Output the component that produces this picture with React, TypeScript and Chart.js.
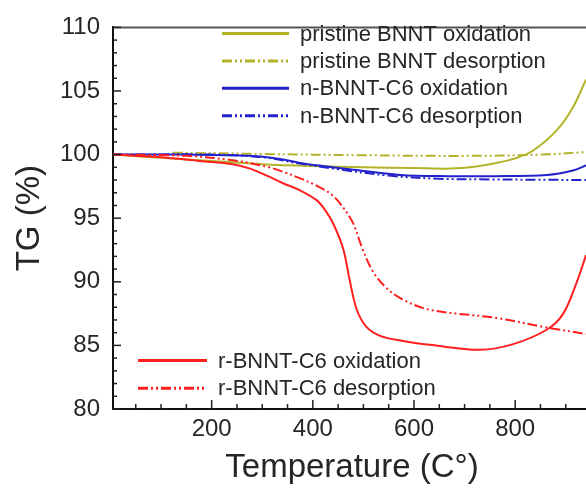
import React, { useEffect, useRef } from "react";
import { Chart, registerables } from "chart.js";

Chart.register(...registerables);

// ---- Data (temperature in °C, TG in %) ----
const pristineOxT = [5, 100, 200, 300, 400, 500, 600, 671, 720, 770, 800, 835, 882, 914, 940];
const pristineOxV = [100, 99.75, 99.5, 99.25, 99.1, 99.0, 98.95, 98.9, 99.05, 99.4, 99.7, 100.3, 101.9, 103.7, 105.9];

const pristineDesT = [123, 300, 500, 700, 850, 940];
const pristineDesV = [100.15, 100.05, 99.95, 99.9, 100.0, 100.2];

const nOxT = [5, 150, 275, 335, 374, 420, 473, 572, 671, 760, 863, 914, 940];
const nOxV = [100, 100, 99.9, 99.65, 99.35, 99.1, 98.85, 98.4, 98.3, 98.3, 98.4, 98.75, 99.15];

const nDesT = [5, 200, 300, 374, 450, 550, 650, 750, 940];
const nDesV = [100, 100, 99.8, 99.3, 98.85, 98.35, 98.1, 98.05, 98.0];

const rOxT = [5, 100, 177, 242, 276, 309, 341, 374, 408, 425, 440, 460, 473, 487, 506, 533, 578, 631, 730, 796, 863, 895, 922, 940];
const rOxV = [100, 99.8, 99.5, 99.25, 98.9, 98.35, 97.75, 97.2, 96.4, 95.6, 94.6, 92.6, 90.1, 87.8, 86.45, 85.75, 85.35, 85.05, 84.65, 85.1, 86.25, 87.5, 90.0, 92.1];

const rDesT = [5, 150, 242, 309, 341, 374, 408, 434, 453, 479, 498, 519, 546, 578, 631, 764, 863, 940];
const rDesV = [100, 99.9, 99.55, 99.05, 98.65, 98.15, 97.55, 96.95, 96.2, 94.65, 92.6, 90.8, 89.5, 88.6, 87.8, 87.15, 86.4, 85.9];

const seriesLabels = [
  "pristine BNNT oxidation",
  "pristine BNNT desorption",
  "n-BNNT-C6 oxidation",
  "n-BNNT-C6 desorption",
  "r-BNNT-C6 oxidation",
  "r-BNNT-C6 desorption",
];

const xTickValues = [200, 400, 600, 800];
const yMin = 80;
const yMax = 110;
const xMin = 5;
const xMax = 940;

const xTitle = "Temperature (C°)";
const yTitle = "TG (%)";

const OLIVE = "#b3b32a";
const BLUE = "#2222cc";
const RED = "#ff1f1f";
const DASH = [10, 3, 2, 3, 2, 3];
const FONT = "'Liberation Sans', Arial, Helvetica, sans-serif";
const TEXT = "#262626";

const toPts = (xs: number[], ys: number[]) => xs.map((x, i) => ({ x, y: ys[i] }));

const seriesStyles = [
  { color: OLIVE, dash: [] as number[] },
  { color: OLIVE, dash: DASH },
  { color: BLUE, dash: [] as number[] },
  { color: BLUE, dash: DASH },
  { color: RED, dash: [] as number[] },
  { color: RED, dash: DASH },
];

const decorPlugin = {
  id: "decor",
  afterDatasetsDraw(chart: any) {
    const { ctx, chartArea } = chart;
    const xs = chart.scales.x;
    const ys = chart.scales.y;
    ctx.save();
    // top frame line
    ctx.strokeStyle = "#555555";
    ctx.lineWidth = 2;
    ctx.beginPath();
    ctx.moveTo(chartArea.left, chartArea.top);
    ctx.lineTo(chartArea.right, chartArea.top);
    ctx.stroke();

    // inward ticks
    ctx.strokeStyle = "#222222";
    ctx.lineWidth = 1.5;
    for (let v = yMin; v <= yMax; v += 1) {
      const py = ys.getPixelForValue(v);
      const len = v % 5 === 0 ? 8 : 4;
      ctx.beginPath();
      ctx.moveTo(chartArea.left, py);
      ctx.lineTo(chartArea.left + len, py);
      ctx.stroke();
    }
    for (let t = 50; t <= xMax; t += 50) {
      const px = xs.getPixelForValue(t);
      const len = t % 200 === 0 ? 9 : 5;
      ctx.beginPath();
      ctx.moveTo(px, chartArea.bottom);
      ctx.lineTo(px, chartArea.bottom - len);
      ctx.stroke();
    }

    // legends
    const drawItem = (idx: number, x0: number, x1: number, y: number) => {
      const st = seriesStyles[idx];
      ctx.strokeStyle = st.color;
      ctx.lineWidth = 3;
      ctx.setLineDash(st.dash);
      ctx.beginPath();
      ctx.moveTo(x0, y);
      ctx.lineTo(x1, y);
      ctx.stroke();
      ctx.setLineDash([]);
      ctx.fillStyle = TEXT;
      ctx.font = `22px ${FONT}`;
      ctx.textAlign = "left";
      ctx.textBaseline = "middle";
      ctx.fillText(seriesLabels[idx], x1 + 11, y + 1);
    };
    [0, 1, 2, 3].forEach((i) => drawItem(i, 222, 289, 33.5 + i * 27.4));
    [4, 5].forEach((i, k) => drawItem(i, 138, 207, 360.5 + k * 27.8));

    // axis titles
    ctx.fillStyle = TEXT;
    ctx.font = `33px ${FONT}`;
    ctx.textAlign = "center";
    ctx.textBaseline = "middle";
    ctx.fillText(xTitle, 352, 468);
    ctx.save();
    ctx.translate(30, (chartArea.top + chartArea.bottom) / 2);
    ctx.rotate(-Math.PI / 2);
    ctx.fillText(yTitle, 0, 0);
    ctx.restore();
    ctx.restore();
  },
};

export default function App() {
  const ref = useRef<HTMLCanvasElement | null>(null);
  useEffect(() => {
    document.body.style.margin = "0";
    const canvas = ref.current!;
    const datasets = [
      toPts(rOxT, rOxV),
      toPts(rDesT, rDesV),
      toPts(nOxT, nOxV),
      toPts(nDesT, nDesV),
      toPts(pristineOxT, pristineOxV),
      toPts(pristineDesT, pristineDesV),
    ];
    const order = [4, 5, 2, 3, 0, 1];
    const chart = new Chart(canvas, {
      type: "line",
      data: {
        datasets: order.map((si, k) => ({
          label: seriesLabels[si],
          data: datasets[k],
          borderColor: seriesStyles[si].color,
          borderDash: seriesStyles[si].dash,
          borderWidth: 2,
          pointRadius: 0,
          fill: false,
          tension: 0.35,
        })),
      },
      options: {
        responsive: false,
        animation: false,
        devicePixelRatio: 1,
        layout: { padding: { top: 22, left: 0, right: 0, bottom: 0 } },
        plugins: { legend: { display: false }, tooltip: { enabled: false } },
        scales: {
          x: {
            type: "linear",
            min: xMin,
            max: xMax,
            grid: { display: false, drawTicks: false },
            border: { display: true, color: "#111111", width: 2 },
            afterBuildTicks: (scale: any) => {
              scale.ticks = xTickValues.map((v) => ({ value: v }));
            },
            afterFit: (scale: any) => {
              scale.height = 81;
            },
            ticks: {
              color: TEXT,
              font: { family: FONT, size: 24 },
              padding: 6,
              maxRotation: 0,
              autoSkip: false,
              callback: (v: any) => String(v),
            },
          },
          y: {
            type: "linear",
            min: yMin,
            max: yMax,
            grid: { display: false, drawTicks: false },
            border: { display: true, color: "#111111", width: 2 },
            afterFit: (scale: any) => {
              scale.width = 113;
            },
            ticks: {
              color: TEXT,
              font: { family: FONT, size: 24 },
              stepSize: 5,
              padding: 13,
            },
          },
        },
      },
      plugins: [decorPlugin],
    });
    return () => chart.destroy();
  }, []);
  return (
    <canvas
      ref={ref}
      width={586}
      height={490}
      style={{ display: "block", width: 586, height: 490 }}
    />
  );
}
